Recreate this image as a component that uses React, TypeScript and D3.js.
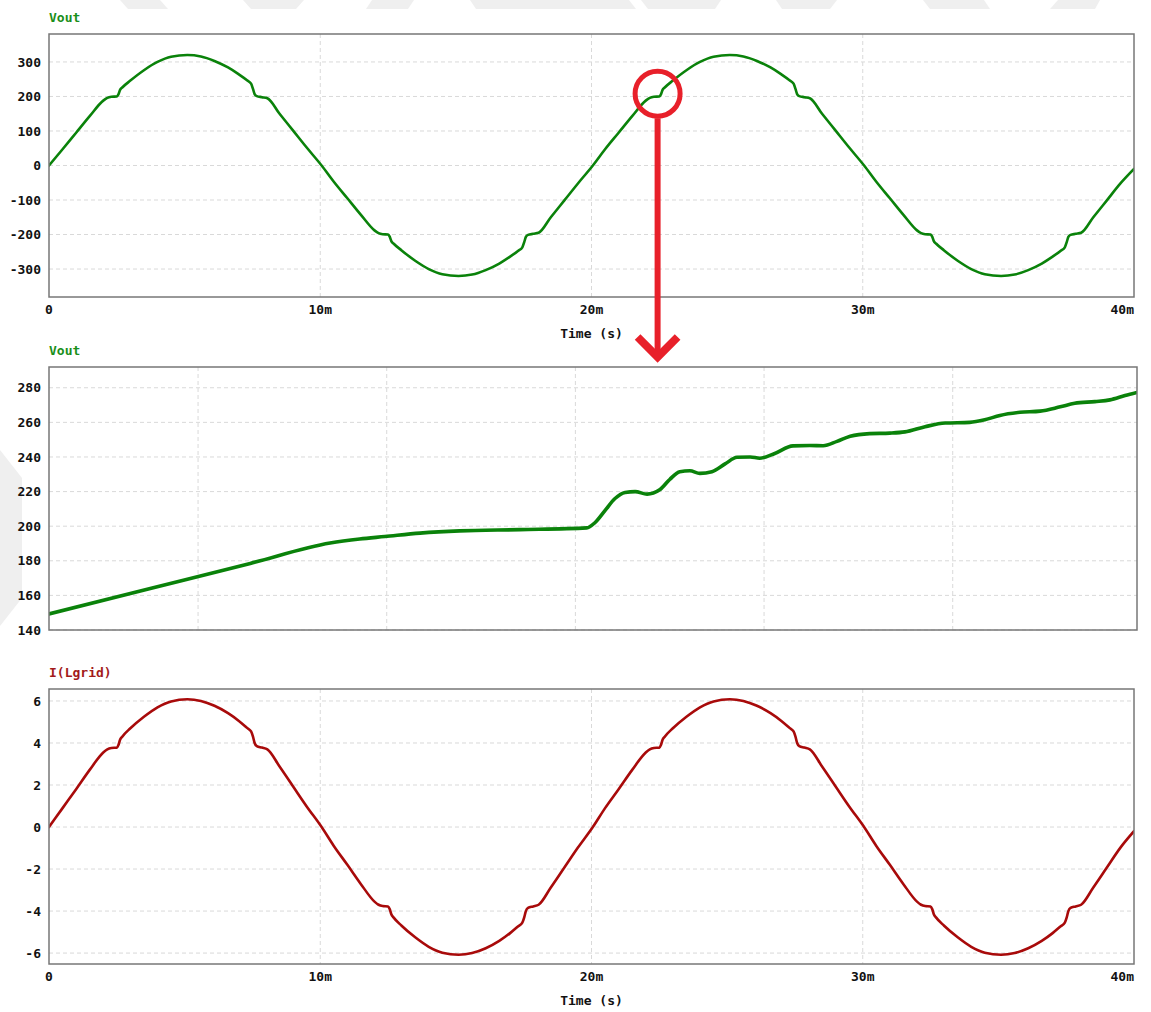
import React from 'react';
import * as d3 from 'd3';

// ---------- DATA ----------
const TIME_MS = [
  0, 0.5, 1, 1.5, 2.0, 2.15, 2.3, 2.5, 2.56, 2.62, 2.7, 3.0, 3.5, 4.0, 4.5, 5.1, 5.6, 6.1, 6.6, 7.0, 7.3, 7.45, 7.52, 7.58, 7.66, 7.85, 8.05, 8.5, 9.0, 9.5,
  10.05, 10.5, 11, 11.5, 12.0, 12.15, 12.3, 12.5, 12.56, 12.62, 12.7, 13.0, 13.5, 14.0, 14.5, 15.1, 15.6, 16.1, 16.6, 17.0, 17.3, 17.45, 17.52, 17.58, 17.66, 17.85, 18.05, 18.5, 19.0, 19.5,
  20.05, 20.5, 21, 21.5, 22.0, 22.15, 22.3, 22.5, 22.56, 22.62, 22.7, 23.0, 23.5, 24.0, 24.5, 25.1, 25.6, 26.1, 26.6, 27.0, 27.3, 27.45, 27.52, 27.58, 27.66, 27.85, 28.05, 28.5, 29.0, 29.5,
  30.05, 30.5, 31, 31.5, 32.0, 32.15, 32.3, 32.5, 32.56, 32.62, 32.7, 33.0, 33.5, 34.0, 34.5, 35.1, 35.6, 36.1, 36.6, 37.0, 37.3, 37.45, 37.52, 37.58, 37.66, 37.85, 38.05, 38.5, 39.0, 39.5,
  40,
];

const VOUT = [
  0, 47, 95, 143, 188, 196, 199, 200, 206, 219, 226, 246, 276, 300, 315, 320, 316, 303, 284, 264, 247, 237, 222, 207, 201, 198, 195, 150, 101, 52,
  0, -47, -95, -143, -188, -196, -199, -200, -206, -219, -226, -246, -276, -300, -315, -320, -316, -303, -284, -264, -247, -237, -222, -207, -201, -198, -195, -150, -101, -52,
  0, 47, 95, 143, 188, 196, 199, 200, 206, 219, 226, 246, 276, 300, 315, 320, 316, 303, 284, 264, 247, 237, 222, 207, 201, 198, 195, 150, 101, 52,
  0, -47, -95, -143, -188, -196, -199, -200, -206, -219, -226, -246, -276, -300, -315, -320, -316, -303, -284, -264, -247, -237, -222, -207, -201, -198, -195, -150, -101, -52,
  -10,
];

const I_LGRID = [
  0, 0.9, 1.8, 2.72, 3.55, 3.7, 3.76, 3.78, 3.9, 4.15, 4.3, 4.7, 5.25, 5.7, 5.98, 6.08, 6.0, 5.77, 5.42, 5.05, 4.72, 4.55, 4.3, 4.0, 3.85, 3.78, 3.7, 2.88, 1.93, 0.98,
  0, -0.9, -1.8, -2.72, -3.55, -3.7, -3.76, -3.78, -3.9, -4.15, -4.3, -4.7, -5.25, -5.7, -5.98, -6.08, -6.0, -5.77, -5.42, -5.05, -4.72, -4.55, -4.3, -4.0, -3.85, -3.78, -3.7, -2.88, -1.93, -0.98,
  0, 0.9, 1.8, 2.72, 3.55, 3.7, 3.76, 3.78, 3.9, 4.15, 4.3, 4.7, 5.25, 5.7, 5.98, 6.08, 6.0, 5.77, 5.42, 5.05, 4.72, 4.55, 4.3, 4.0, 3.85, 3.78, 3.7, 2.88, 1.93, 0.98,
  0, -0.9, -1.8, -2.72, -3.55, -3.7, -3.76, -3.78, -3.9, -4.15, -4.3, -4.7, -5.25, -5.7, -5.98, -6.08, -6.0, -5.77, -5.42, -5.05, -4.72, -4.55, -4.3, -4.0, -3.85, -3.78, -3.7, -2.88, -1.93, -0.98,
  -0.2,
];

const ZOOM_TIME_MS = [
  21.663, 21.824, 21.983, 22.110, 22.157, 22.197, 22.253, 22.316, 22.412, 22.518, 22.531, 22.547, 22.563, 22.579, 22.595,
  22.614, 22.634, 22.650, 22.666, 22.682, 22.698, 22.717, 22.738, 22.757, 22.778, 22.793, 22.817, 22.846, 22.873, 22.894,
  22.916, 22.937, 22.968, 23.000, 23.024, 23.056, 23.088, 23.127, 23.151, 23.175, 23.207, 23.239, 23.271, 23.294, 23.326,
  23.350, 23.374, 23.393,
];

const ZOOM_VOUT = [
  149.3, 164, 178.5, 190.3, 192.6, 194, 196, 197.3, 198, 199, 202, 209, 216, 219.5, 220,
  218.5, 221, 227, 231.5, 232, 230.5, 231.5, 236, 239.8, 240, 239.3, 242, 246.4, 246.6, 246.5,
  249, 252, 253.5, 253.8, 254.5, 257.5, 259.6, 260, 261.5, 264, 265.8, 266.5, 269, 271, 272,
  273, 275.5, 277.3,
];

const TOP_Y_TICKS = [-300, -200, -100, 0, 100, 200, 300];
const ZOOM_Y_TICKS = [140, 160, 180, 200, 220, 240, 260, 280];
const I_Y_TICKS = [-6, -4, -2, 0, 2, 4, 6];
const TIME_TICKS = [0, 10, 20, 30, 40];
const TIME_TICK_LABELS = ['0', '10m', '20m', '30m', '40m'];
const ZOOM_GRID_TIMES = [21.9, 22.2, 22.5, 22.8, 23.1];

// ---------- STYLE ----------
const FONT = '"DejaVu Sans Mono", "Liberation Mono", monospace';
const GREEN = '#0a820a';
const GREEN_TITLE = '#1b8f1b';
const RED_LINE = '#a80a0a';
const RED_TITLE = '#a21a1a';
const ANNOT = '#e8202a';
const GRID = '#d9d9d9';
const FRAME = '#777';

type PanelProps = {
  x0: number; x1: number; y0: number; y1: number;
  xDomain: [number, number]; yDomain: [number, number];
  yTicks: number[]; xGrid: number[];
  xTicks?: number[]; xTickLabels?: string[];
  showXAxisTitle?: boolean;
  title: string; titleColor: string;
  times: number[]; values: number[];
  color: string; strokeWidth: number; id: string;
};

function Panel(p: PanelProps) {
  const x = d3.scaleLinear().domain(p.xDomain).range([p.x0, p.x1]);
  const y = d3.scaleLinear().domain(p.yDomain).range([p.y1, p.y0]);
  const pts = p.times.map((t, i) => [t, p.values[i]] as [number, number]);
  const line = d3.line<[number, number]>()
    .x(d => x(d[0]))
    .y(d => y(d[1]))
    .curve(d3.curveMonotoneX);
  return (
    <g>
      <defs>
        <clipPath id={p.id}>
          <rect x={p.x0} y={p.y0} width={p.x1 - p.x0} height={p.y1 - p.y0} />
        </clipPath>
      </defs>
      <rect x={p.x0} y={p.y0} width={p.x1 - p.x0} height={p.y1 - p.y0} fill="#fff" />
      {p.yTicks.map(v => (
        <line key={'gy' + v} x1={p.x0} x2={p.x1} y1={y(v)} y2={y(v)} stroke={GRID} strokeWidth={1} strokeDasharray="4,3" />
      ))}
      {p.xGrid.map(v => (
        <line key={'gx' + v} x1={x(v)} x2={x(v)} y1={p.y0} y2={p.y1} stroke={GRID} strokeWidth={1} strokeDasharray="4,3" />
      ))}
      <path d={line(pts) || ''} fill="none" stroke={p.color} strokeWidth={p.strokeWidth} strokeLinejoin="round" strokeLinecap="round" clipPath={`url(#${p.id})`} />
      <rect x={p.x0} y={p.y0} width={p.x1 - p.x0} height={p.y1 - p.y0} fill="none" stroke={FRAME} strokeWidth={1.5} />
      {p.yTicks.map(v => (
        <text key={'ty' + v} x={p.x0 - 8} y={y(v)} dy="0.35em" textAnchor="end" fontFamily={FONT} fontWeight="bold" fontSize={13} fill="#111">
          {String(v)}
        </text>
      ))}
      {p.xTicks && p.xTickLabels && p.xTicks.map((v, i) => {
        const last = i === p.xTicks!.length - 1;
        return (
          <text key={'tx' + v} x={last ? p.x1 : x(v)} y={p.y1 + 17} textAnchor={last ? 'end' : 'middle'} fontFamily={FONT} fontWeight="bold" fontSize={13} fill="#111">
            {p.xTickLabels![i]}
          </text>
        );
      })}
      {p.showXAxisTitle && (
        <text x={(p.x0 + p.x1) / 2} y={p.y1 + 41} textAnchor="middle" fontFamily={FONT} fontWeight="bold" fontSize={13} fill="#111">
          Time (s)
        </text>
      )}
      <text x={p.x0} y={p.y0 - 12} fontFamily={FONT} fontWeight="bold" fontSize={13} fill={p.titleColor}>
        {p.title}
      </text>
    </g>
  );
}

export default function App() {
  const top = { x0: 49, x1: 1134, y0: 34, y1: 297 };
  const mid = { x0: 49, x1: 1137, y0: 367, y1: 630 };
  const bot = { x0: 49, x1: 1134, y0: 689, y1: 964 };
  const topX = d3.scaleLinear().domain([0, 40]).range([top.x0, top.x1]);
  const topY = d3.scaleLinear().domain([-381, 381]).range([top.y1, top.y0]);
  const cx = topX(22.4) + 1;
  const cy = topY(208);
  const r = 22.5;
  const tipY = 363;
  return (
    <div style={{ position: 'absolute', left: 0, top: 0 }}>
      <svg width={1151} height={1012} style={{ display: 'block', background: '#fff' }}>
        <g fill="#efefef">
          <polygon points="120,0 160,0 168,9 128,9" />
          <polygon points="243,0 304,0 296,9 251,9" />
          <polygon points="372,0 414,0 408,9 366,9" />
          <polygon points="470,0 629,0 636,9 476,9" />
          <polygon points="641,0 721,0 715,9 648,9" />
          <polygon points="776,0 837,0 830,9 782,9" />
          <polygon points="923,0 984,0 990,9 930,9" />
          <polygon points="1058,0 1100,0 1095,9 1050,9" />
          <polygon points="0,450 22,478 22,598 0,626" />
        </g>
        <Panel
          id="clipTop" {...top}
          xDomain={[0, 40]} yDomain={[-381, 381]}
          yTicks={TOP_Y_TICKS} xGrid={[10, 20, 30]}
          xTicks={TIME_TICKS} xTickLabels={TIME_TICK_LABELS} showXAxisTitle
          title="Vout" titleColor={GREEN_TITLE}
          times={TIME_MS} values={VOUT} color={GREEN} strokeWidth={2.6}
        />
        <Panel
          id="clipMid" {...mid}
          xDomain={[21.663, 23.393]} yDomain={[140, 292]}
          yTicks={ZOOM_Y_TICKS} xGrid={ZOOM_GRID_TIMES}
          title="Vout" titleColor={GREEN_TITLE}
          times={ZOOM_TIME_MS} values={ZOOM_VOUT} color={GREEN} strokeWidth={3.6}
        />
        <Panel
          id="clipBot" {...bot}
          xDomain={[0, 40]} yDomain={[-6.52, 6.57]}
          yTicks={I_Y_TICKS} xGrid={[10, 20, 30]}
          xTicks={TIME_TICKS} xTickLabels={TIME_TICK_LABELS} showXAxisTitle
          title="I(Lgrid)" titleColor={RED_TITLE}
          times={TIME_MS} values={I_LGRID} color={RED_LINE} strokeWidth={2.6}
        />
        <circle cx={cx} cy={cy} r={r} fill="none" stroke={ANNOT} strokeWidth={5} />
        <line x1={cx} x2={cx} y1={cy + r + 2} y2={tipY - 8} stroke={ANNOT} strokeWidth={6} />
        <polyline points={`${cx - 20},${tipY - 26} ${cx},${tipY - 6} ${cx + 20},${tipY - 26}`} fill="none" stroke={ANNOT} strokeWidth={8} strokeLinejoin="miter" strokeMiterlimit={10} />
      </svg>
    </div>
  );
}
